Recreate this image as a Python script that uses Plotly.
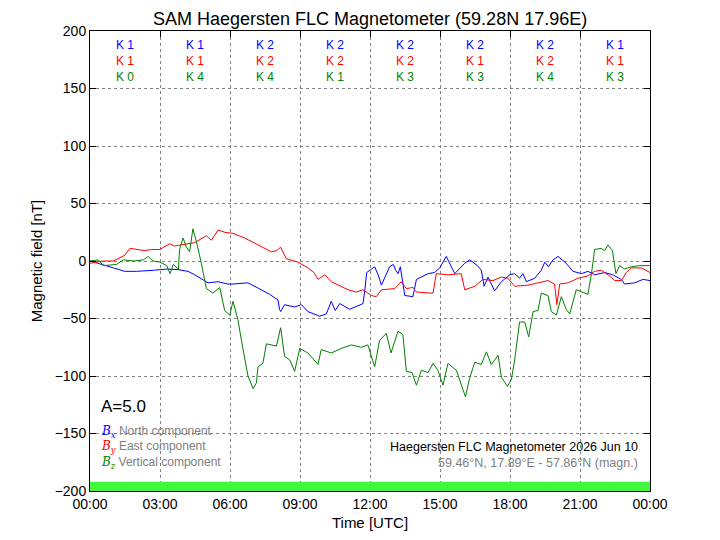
import plotly.graph_objects as go

# ---- data (hours UTC, nT) ----
bx_t = [0, 0.3, 0.6, 1.0, 1.49, 2.0, 2.77, 3.3, 3.77, 4.2, 4.49, 4.8, 5.06, 5.49, 5.91, 6.13, 6.77, 7.34, 7.7, 8.06,
        8.12, 8.17, 8.34, 8.77, 9.06, 9.34, 9.84, 10.13, 10.34, 10.51, 10.7, 11.13, 11.56, 11.7, 11.78, 11.86, 12.0,
        12.2, 12.35, 12.49, 12.84, 13.0, 13.1, 13.2, 13.3, 13.49, 13.84, 13.99, 14.49, 14.77, 14.99, 15.27, 15.63,
        16.06, 16.27, 16.6, 16.77, 16.89, 17.06, 17.34, 17.63, 17.99, 18.2, 18.41, 18.55, 18.7, 19.06, 19.34, 19.49,
        19.65, 19.84, 20.06, 20.41, 20.7, 21.06, 21.34, 21.63, 22.06, 22.4, 22.77, 22.91, 23.34, 23.7, 24.0]
bx_v = [0, -2, -4, -6, -9, -9, -8, -7, -7.5, -9, -12, -16, -19, -18, -20, -20, -19, -25, -29, -34,
        -42, -44, -38, -40, -38, -44, -48, -46, -35, -43, -37, -42, -38, -37, -25, -10, -8,
        -5, -12, -21, -5, -3, -8, -11, -5, -30, -31, -16, -11, -10, -6, 4, -11,
        -2, 1, -4, -8, -22, -14, -26, -18, -12, -11, -15, -11, -18, -15, -8, -1,
        -5, 1, 4, -2, -9, -11, -9, -12, -10, -12, -16, -20, -19, -16, -17]

by_t = [0, 0.3, 0.57, 1.0, 1.49, 1.71, 2.06, 2.35, 2.63, 2.99, 3.41, 3.62, 3.91, 4.2, 4.49, 4.99, 5.2, 5.49, 5.77,
        6.13, 6.63, 7.2, 7.77, 8.0, 8.17, 8.41, 8.91, 9.34, 9.6, 9.77, 10.06, 10.34, 10.77, 11.06, 11.41, 11.7,
        12.06, 12.27, 12.49, 13.06, 13.34, 13.56, 13.84, 13.99, 14.7, 14.84, 15.34, 15.91, 16.06, 16.49, 16.84,
        17.27, 17.63, 17.91, 18.2, 18.77, 19.2, 19.63, 19.91, 20.01, 20.13, 20.49, 20.91, 21.34, 21.63, 21.91,
        22.2, 22.49, 22.77, 22.99, 23.2, 23.63, 24.0]
by_v = [-2, -1, 0, 0, 5, 11, 10, 9, 10, 10, 15, 13, 14, 15, 16, 22, 18, 27, 25,
        24, 20, 14, 8, 9, 12, 2, -1, -6, -10, -16, -12, -18, -22, -25, -27, -25,
        -30, -31, -25, -24, -18, -24, -23, -27, -28, -11, -12, -11, -25, -22, -16,
        -17, -14, -15, -22, -21, -19, -17, -20, -38, -20, -19, -15, -13, -9, -8,
        -12, -17, -17, -10, -6, -6, -10]

bz_t = [0, 0.36, 0.57, 1.14, 1.43, 1.86, 2.29, 2.5, 2.71, 3.0, 3.29, 3.43, 3.57, 3.79, 3.84, 3.99, 4.13, 4.27, 4.41,
        4.56, 4.77, 4.99, 5.27, 5.56, 5.77, 5.99, 6.13, 6.34, 6.49, 6.63, 6.77, 6.99, 7.13, 7.2, 7.41, 7.56, 7.77,
        7.99, 8.17, 8.34, 8.56, 8.77, 8.99, 9.34, 9.77, 9.91, 10.34, 10.77, 11.2, 11.63, 11.91, 12.2, 12.41, 12.7,
        12.9, 13.2, 13.41, 13.56, 13.8, 13.99, 14.2, 14.49, 14.7, 14.91, 15.13, 15.34, 15.7, 15.91, 16.09, 16.27,
        16.49, 16.77, 16.99, 17.2, 17.49, 17.63, 17.89, 18.06, 18.2, 18.41, 18.63, 18.8, 18.99, 19.2, 19.34, 19.63,
        19.77, 19.99, 20.2, 20.41, 20.56, 20.84, 21.06, 21.34, 21.49, 21.63, 21.91, 22.05, 22.2, 22.39, 22.54,
        22.7, 22.91, 23.2, 23.56, 24.0]
bz_v = [0, 1, -4, -3, 1, 0, 1, 4, 0, -1, -4, -11, -3, -7, 10, 20, 12, 8, 28,
        17, -2, -24, -28, -23, -43, -47, -35, -51, -69, -83, -100, -111, -106, -92, -89, -72, -73,
        -74, -58, -83, -86, -96, -76, -80, -90, -77, -80, -76, -73, -75, -73, -92, -69, -63,
        -80, -61, -64, -96, -97, -108, -95, -97, -89, -95, -108, -89, -95, -107, -118, -102,
        -88, -90, -79, -90, -82, -101, -109, -103, -86, -53, -53, -66, -44, -43, -28, -30,
        -44, -47, -31, -42, -46, -25, -27, -29, -11, 10, 11, 9, 14, 9, -11,
        -4, -7, -5, -4, -4]

k_x = ["1", "1", "2", "2", "2", "2", "2", "1"]
k_y = ["1", "1", "2", "2", "2", "1", "2", "1"]
k_z = ["0", "4", "4", "1", "3", "3", "4", "3"]
k_centers = [1.5, 4.5, 7.5, 10.5, 13.5, 16.5, 19.5, 22.5]

x_ticks = [0, 3, 6, 9, 12, 15, 18, 21, 24]
x_ticktext = ["00:00", "03:00", "06:00", "09:00", "12:00", "15:00", "18:00", "21:00", "00:00"]
y_ticks = [-200, -150, -100, -50, 0, 50, 100, 150, 200]

FONT = "Liberation Sans, Arial, sans-serif"

fig = go.Figure()
fig.add_trace(go.Scatter(x=bx_t, y=bx_v, mode="lines", line=dict(color="#0000ff", width=1)))
fig.add_trace(go.Scatter(x=by_t, y=by_v, mode="lines", line=dict(color="#ff0000", width=1)))
fig.add_trace(go.Scatter(x=bz_t, y=bz_v, mode="lines", line=dict(color="#008000", width=1)))

# data coverage bar
fig.add_shape(type="rect", xref="x", yref="y", x0=0, x1=24, y0=-200, y1=-192,
              fillcolor="#40f840", line=dict(width=0), layer="above")

ann = []
rows = [(k_x, "#0000ff", 0.9696), (k_y, "#ff0000", 0.9348), (k_z, "#008000", 0.9)]
for vals, col, yy in rows:
    for c, v in zip(k_centers, vals):
        ann.append(dict(x=c, y=yy, xref="x", yref="paper", text="K " + v, showarrow=False,
                        font=dict(color=col, size=12, family=FONT), xanchor="center", yanchor="middle"))

ann.append(dict(x=0.016, y=0.183, xref="paper", yref="paper", text="A=5.0", showarrow=False,
                font=dict(size=17, color="black", family=FONT), xanchor="left", yanchor="middle"))
leg = [("#0000ff", "x", "North component", 0.128),
       ("#ff0000", "y", "East component", 0.0957),
       ("#008000", "z", "Vertical component", 0.0609)]
for col, sub, txt, yy in leg:
    ann.append(dict(x=0.016, y=yy, xref="paper", yref="paper",
                    text=f"<span style='color:{col};font-family:DejaVu Serif'><i>B</i><sub><i>{sub}</i></sub></span> {txt}",
                    showarrow=False, font=dict(size=12, color="#808080", family=FONT),
                    xanchor="left", yanchor="middle"))
ann.append(dict(x=0.982, y=0.0957, xref="paper", yref="paper", text="Haegersten FLC Magnetometer 2026 Jun 10",
                showarrow=False, font=dict(size=12.5, color="black", family=FONT), xanchor="right", yanchor="middle"))
ann.append(dict(x=0.982, y=0.0609, xref="paper", yref="paper", text="59.46°N, 17.89°E - 57.86°N (magn.)",
                showarrow=False, font=dict(size=12.5, color="#808080", family=FONT), xanchor="right", yanchor="middle"))

fig.update_layout(
    width=720, height=540,
    margin=dict(l=90, r=70, t=31, b=49),
    paper_bgcolor="white", plot_bgcolor="white",
    showlegend=False,
    font=dict(family=FONT, color="black"),
    title=dict(text="SAM Haegersten FLC Magnetometer (59.28N 17.96E)", x=0.514, xanchor="center",
               y=0.965, yanchor="middle", font=dict(size=18, family=FONT)),
    annotations=ann,
)
fig.update_xaxes(range=[0, 24], tickvals=x_ticks, ticktext=x_ticktext, showline=True, linecolor="black",
                 linewidth=1, mirror="ticks", ticks="inside", ticklen=6, tickcolor="black",
                 showgrid=True, gridcolor="#808080", griddash="dot", gridwidth=1, zeroline=False,
                 tickfont=dict(size=14), title=dict(text="Time [UTC]", font=dict(size=15), standoff=6))
fig.update_yaxes(range=[-200, 200], tickvals=y_ticks, showline=True, linecolor="black",
                 linewidth=1, mirror="ticks", ticks="inside", ticklen=6, tickcolor="black",
                 showgrid=True, gridcolor="#808080", griddash="dot", gridwidth=1, zeroline=False,
                 tickfont=dict(size=14), title=dict(text="Magnetic field [nT]", font=dict(size=15), standoff=8))

fig.write_html("out.html")
